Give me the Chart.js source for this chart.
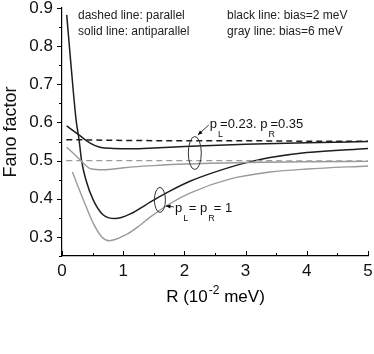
<!DOCTYPE html>
<html>
<head>
<meta charset="utf-8">
<script src="https://cdn.jsdelivr.net/npm/chart.js@4/dist/chart.umd.min.js"></script>
<style>
  html, body { margin: 0; padding: 0; background: #fff; }
  #wrap { width: 374px; height: 354px; }
</style>
</head>
<body>
<div id="wrap"><canvas id="fano"></canvas></div>
<script>
// values
const xTickLabels = [0, 1, 2, 3, 4, 5];
const yTickLabels = [0.3, 0.4, 0.5, 0.6, 0.7, 0.8, 0.9];

// parallel (dashed)
const parX = [0.07, 1, 2, 3, 4, 5];
const blackParY = [0.555, 0.553, 0.552, 0.552, 0.551, 0.551];
const grayParY = [0.5, 0.5, 0.5, 0.5, 0.499, 0.499];

// antiparallel, pL=0.23 pR=0.35
const blackAntiX = [0.077, 0.27, 0.46, 0.62, 0.84, 1.14, 1.5, 2, 3, 4, 5];
const blackAntiY = [0.591, 0.568, 0.546, 0.535, 0.532, 0.531, 0.533, 0.537, 0.543, 0.547, 0.55];
const grayAntiX = [0.077, 0.24, 0.35, 0.48, 0.67, 0.95, 1.11, 1.5, 2, 3, 4, 5];
const grayAntiY = [0.535, 0.511, 0.493, 0.478, 0.476, 0.48, 0.483, 0.487, 0.491, 0.495, 0.497, 0.498];

// antiparallel, pL=pR=1
const blackP1X = [0.077, 0.15, 0.23, 0.28, 0.32, 0.39, 0.51, 0.67, 0.87, 1.14, 1.27, 1.44, 1.76, 2.09, 2.75, 3.1, 3.4, 4, 5];
const blackP1Y = [0.882, 0.745, 0.607, 0.553, 0.5, 0.45, 0.397, 0.358, 0.348, 0.362, 0.374, 0.391, 0.42, 0.446, 0.483, 0.498, 0.508, 0.521, 0.532];
const grayP1X = [0.17, 0.35, 0.51, 0.65, 0.77, 1.06, 1.27, 1.44, 1.76, 2.09, 2.75, 3.4, 4, 5];
const grayP1Y = [0.47, 0.397, 0.336, 0.30, 0.29, 0.307, 0.33, 0.352, 0.387, 0.415, 0.452, 0.47, 0.478, 0.486];

const BLACK = "#1e1e1e";
const GRAY = "#9a9a9a";
const FONT = "'Liberation Sans', Arial, sans-serif";

function pts(xs, ys) {
  return xs.map((x, i) => ({ x: x, y: ys[i] }));
}

function line(data, color, width, dash) {
  return {
    data: data,
    borderColor: color,
    borderWidth: width,
    borderDash: dash || [],
    pointRadius: 0,
    fill: false,
    cubicInterpolationMode: "monotone",
  };
}

// ellipse markers, centre in data units, radii in px
const marks = [
  { x: 2.17, y: 0.52, rx: 6.5, ry: 16.5 },
  { x: 1.6, y: 0.397, rx: 5.5, ry: 12.5 },
];

function arrow(ctx, x1, y1, x2, y2) {
  ctx.beginPath();
  ctx.moveTo(x1, y1);
  ctx.lineTo(x2, y2);
  ctx.stroke();
  const a = Math.atan2(y2 - y1, x2 - x1);
  ctx.beginPath();
  ctx.moveTo(x2, y2);
  ctx.lineTo(x2 - 5 * Math.cos(a - 0.4), y2 - 5 * Math.sin(a - 0.4));
  ctx.lineTo(x2 - 5 * Math.cos(a + 0.4), y2 - 5 * Math.sin(a + 0.4));
  ctx.closePath();
  ctx.fill();
}

// "p" + subscript pieces
function subText(ctx, x, y, parts) {
  let cx = x;
  parts.forEach((p) => {
    if (p.sub) {
      ctx.font = "9px " + FONT;
      ctx.fillText(p.t, cx + 1, y + 9);
      cx += p.w;
    } else {
      ctx.font = "13px " + FONT;
      ctx.fillText(p.t, cx, y);
      cx += ctx.measureText(p.t).width;
    }
  });
}

const extras = {
  id: "extras",
  afterDraw(chart) {
    const ctx = chart.ctx;
    const xs = chart.scales.x;
    const ys = chart.scales.y;
    const area = chart.chartArea;
    ctx.save();
    ctx.strokeStyle = "#000";
    ctx.fillStyle = "#000";
    ctx.lineWidth = 1;

    // y ticks, outward
    for (let v = 0.25; v <= 0.9001; v += 0.05) {
      const py = Math.round(ys.getPixelForValue(v)) + 0.5;
      const major = Math.abs(v * 10 - Math.round(v * 10)) < 0.01;
      ctx.beginPath();
      ctx.moveTo(area.left, py);
      ctx.lineTo(area.left - (major ? 5 : 3), py);
      ctx.stroke();
    }
    // x ticks, inward
    for (let v = 0; v <= 5.001; v += 0.5) {
      const px = Math.round(xs.getPixelForValue(v)) + 0.5;
      const major = Math.abs(v - Math.round(v)) < 0.01;
      ctx.beginPath();
      ctx.moveTo(px, area.bottom);
      ctx.lineTo(px, area.bottom - (major ? 5 : 3));
      ctx.stroke();
    }

    // ellipses
    ctx.strokeStyle = "#333";
    marks.forEach((m) => {
      ctx.beginPath();
      ctx.ellipse(xs.getPixelForValue(m.x), ys.getPixelForValue(m.y), m.rx, m.ry, 0, 0, Math.PI * 2);
      ctx.stroke();
    });
    const e1x = xs.getPixelForValue(marks[0].x);
    const e1y = ys.getPixelForValue(marks[0].y);
    arrow(ctx, e1x + 14, e1y - 28, e1x + 3, e1y - 18);
    const e2x = xs.getPixelForValue(marks[1].x);
    const e2y = ys.getPixelForValue(marks[1].y);
    arrow(ctx, e2x + 14, e2y + 7, e2x + 6, e2y + 6);

    ctx.fillStyle = "#111";
    ctx.textBaseline = "alphabetic";
    ctx.textAlign = "left";
    subText(ctx, e1x + 15, e1y - 25, [
      { t: "p" }, { t: "L", sub: true, w: 3 }, { t: "=0.23. p" }, { t: "R", sub: true, w: 3 }, { t: "=0.35" },
    ]);
    subText(ctx, e2x + 15, e2y + 12, [
      { t: "p" }, { t: "L", sub: true, w: 3 }, { t: " = p" }, { t: "R", sub: true, w: 3 }, { t: " = 1" },
    ]);

    // key text
    ctx.font = "12px " + FONT;
    ctx.fillStyle = "#222";
    ctx.fillText("dashed line: parallel", 78, 19);
    ctx.fillText("solid line: antiparallel", 78, 35);
    ctx.fillText("black line: bias=2 meV", 227, 19);
    ctx.fillText("gray line: bias=6 meV", 227, 35);

    // x title with superscript
    ctx.fillStyle = "#000";
    const t1 = "R (10";
    const t2 = " meV)";
    ctx.font = "12px " + FONT;
    const wSup = ctx.measureText("-2").width;
    ctx.font = "17px " + FONT;
    const w1 = ctx.measureText(t1).width;
    const w2 = ctx.measureText(t2).width;
    const sx = (area.left + area.right) / 2 - (w1 + wSup + w2) / 2;
    ctx.fillText(t1, sx, 302);
    ctx.font = "12px " + FONT;
    ctx.fillText("-2", sx + w1 + 1, 294);
    ctx.font = "17px " + FONT;
    ctx.fillText(t2, sx + w1 + wSup + 1, 302);

    ctx.restore();
  },
};

new Chart(document.getElementById("fano"), {
  type: "line",
  data: {
    datasets: [
      line(pts(parX, grayParY), GRAY, 1.4, [6, 4]),
      line(pts(grayAntiX, grayAntiY), GRAY, 1.4),
      line(pts(grayP1X, grayP1Y), GRAY, 1.4),
      line(pts(parX, blackParY), BLACK, 1.5, [6, 4]),
      line(pts(blackAntiX, blackAntiY), BLACK, 1.5),
      line(pts(blackP1X, blackP1Y), BLACK, 1.5),
    ],
  },
  plugins: [extras],
  options: {
    responsive: true,
    maintainAspectRatio: false,
    animation: false,
    layout: { padding: { top: 8, right: 6, left: 0, bottom: 0 } },
    plugins: { legend: { display: false }, tooltip: { enabled: false } },
    scales: {
      x: {
        type: "linear",
        min: 0,
        max: 5,
        afterBuildTicks: (s) => { s.ticks = xTickLabels.map((v) => ({ value: v })); },
        afterFit: (s) => {
          s.height = 98;
          s.paddingLeft = 0;
          s.paddingRight = 0;
        },
        grid: { display: false, drawTicks: false },
        border: { display: true, color: "#000", width: 1.2 },
        ticks: {
          color: "#111",
          padding: 7,
          maxRotation: 0,
          font: { family: FONT, size: 17, lineHeight: 1 },
          callback: (v) => String(v),
        },
      },
      y: {
        min: 0.25,
        max: 0.9,
        afterBuildTicks: (s) => { s.ticks = yTickLabels.map((v) => ({ value: v })); },
        afterFit: (s) => {
          s.width = 62;
          s.paddingTop = 0;
          s.paddingBottom = 0;
        },
        grid: { display: false, drawTicks: false },
        border: { display: true, color: "#000", width: 1.2 },
        title: {
          display: true,
          text: "Fano factor",
          color: "#111",
          padding: { top: 0, bottom: 2 },
          font: { family: FONT, size: 18 },
        },
        ticks: {
          color: "#111",
          padding: 9,
          font: { family: FONT, size: 17, lineHeight: 1 },
          callback: (v) => v.toFixed(1),
        },
      },
    },
  },
});
</script>
</body>
</html>
